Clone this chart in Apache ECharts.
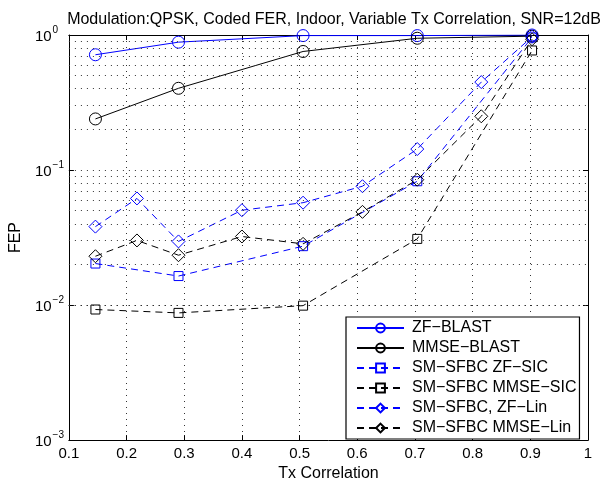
<!DOCTYPE html>
<html>
<head>
<meta charset="utf-8">
<script src="https://cdn.jsdelivr.net/npm/echarts@6/dist/echarts.min.js"></script>
<style>
  html, body { margin: 0; padding: 0; background: #fff; }
  #main { width: 600px; height: 487px; }
</style>
</head>
<body>
<div id="main"></div>
<script>
// Tx correlation values (x)
const corrShort = [0.146, 0.29, 0.506, 0.704, 0.903];
const corrLong = [0.146, 0.218, 0.29, 0.4, 0.506, 0.609, 0.704, 0.815, 0.903];

// FEP values
const zfBlast = [0.714, 0.885, 0.99, 0.99, 1.0];
const mmseBlast = [0.239, 0.403, 0.755, 0.946, 0.98];
const zfSic = [0.0203, 0.0164, 0.0273, 0.0826, 0.96];
const mmseSic = [0.00927, 0.00875, 0.0099, 0.0309, 0.768];
const zfLin = [0.0381, 0.0616, 0.0296, 0.0504, 0.0573, 0.0759, 0.143, 0.448, 0.97];
const mmseLin = [0.023, 0.0301, 0.0234, 0.0322, 0.0284, 0.049, 0.0848, 0.25, 0.93];

const xTickLabels = ['0.1', '0.2', '0.3', '0.4', '0.5', '0.6', '0.7', '0.8', '0.9', '1'];
const yMinorGrid = [0.002, 0.003, 0.004, 0.005, 0.006, 0.007, 0.008, 0.009,
                    0.02, 0.03, 0.04, 0.05, 0.06, 0.07, 0.08, 0.09,
                    0.2, 0.3, 0.4, 0.5, 0.6, 0.7, 0.8, 0.9];

const FONT = 'Liberation Sans, Arial, Helvetica, sans-serif';
const BLUE = '#0000ff';
const BLACK = '#000000';
const DASH = [7, 5];
const GRID_DOT = [1, 5];
const GRID_COLOR = '#333';

function pairs(xs, ys) {
    return xs.map((x, i) => [x, ys[i]]);
}

function makeSeries(name, xs, ys, color, symbol, size, dashed) {
    return {
        name: name,
        type: 'line',
        data: pairs(xs, ys),
        symbol: symbol,
        symbolSize: size,
        showAllSymbol: true,
        animation: false,
        lineStyle: { color: color, width: 1, type: dashed ? DASH : 'solid' },
        itemStyle: { color: 'rgba(255,255,255,0)', borderColor: color, borderWidth: 1 },
        emphasis: { disabled: true },
        z: 3
    };
}

const chart = echarts.init(document.getElementById('main'));

const option = {
    backgroundColor: '#fff',
    textStyle: { fontFamily: FONT },
    title: {
        text: 'Modulation:QPSK, Coded FER, Indoor, Variable Tx Correlation, SNR=12dB',
        left: 329,
        textAlign: 'center',
        top: 7,
        textStyle: { fontFamily: FONT, fontSize: 16, fontWeight: 'normal', color: '#000' }
    },
    grid: { left: 67, right: 12, top: 35, bottom: 41 },
    legend: {
        orient: 'vertical',
        left: 346,
        top: 317,
        padding: [3, 3, 3, 10],
        itemWidth: 47,
        itemHeight: 11,
        itemGap: 4,
        backgroundColor: '#fff',
        borderColor: '#000',
        borderWidth: 1.2,
        borderRadius: 0,
        data: ['ZF\u2212BLAST', 'MMSE\u2212BLAST', 'SM\u2212SFBC ZF\u2212SIC',
               'SM\u2212SFBC MMSE\u2212SIC', 'SM\u2212SFBC, ZF\u2212Lin', 'SM\u2212SFBC MMSE\u2212Lin'],
        textStyle: { fontFamily: FONT, fontSize: 16, color: '#000', lineHeight: 16, padding: [0, 0, 0, 3] },
        selectedMode: false
    },
    xAxis: [{
        type: 'value',
        min: 0.1,
        max: 1,
        interval: 0.1,
        name: 'Tx Correlation',
        nameLocation: 'middle',
        nameGap: 23,
        nameTextStyle: { fontFamily: FONT, fontSize: 16, color: '#000' },
        axisLine: { lineStyle: { color: '#000', width: 1 } },
        axisTick: { inside: true, length: 5, lineStyle: { color: '#000' } },
        axisLabel: {
            margin: 6,
            fontFamily: FONT, fontSize: 15, color: '#000',
            formatter: v => xTickLabels[Math.round(v * 10) - 1]
        },
        splitLine: { show: true, lineStyle: { color: GRID_COLOR, type: GRID_DOT, width: 1 } }
    }, {
        type: 'value',
        position: 'top',
        min: 0.1,
        max: 1,
        interval: 0.1,
        axisLine: { show: true, onZero: false, lineStyle: { color: '#000', width: 1 } },
        axisTick: { inside: true, length: 5, lineStyle: { color: '#000' } },
        axisLabel: { show: false },
        splitLine: { show: false }
    }],
    yAxis: [{
        type: 'log',
        logBase: 10,
        min: 0.001,
        max: 1,
        name: 'FEP',
        nameLocation: 'middle',
        nameGap: 40,
        nameTextStyle: { fontFamily: FONT, fontSize: 16, color: '#000' },
        axisLine: { show: true, lineStyle: { color: '#000', width: 1 } },
        axisTick: { show: true, inside: true, length: 5, lineStyle: { color: '#000' } },
        axisLabel: {
            margin: 34,
            align: 'left',
            formatter: function (v) {
                const e = Math.round(Math.log10(v));
                const s = e < 0 ? '\u2212' + (-e) : String(e);
                return '{b|10}{s|' + s + '}';
            },
            rich: {
                b: { fontFamily: FONT, fontSize: 15, color: '#000', verticalAlign: 'bottom', lineHeight: 16 },
                s: { fontFamily: FONT, fontSize: 10, color: '#000', verticalAlign: 'bottom', padding: [0, 0, 9, 1] }
            }
        },
        splitLine: { show: true, lineStyle: { color: GRID_COLOR, type: GRID_DOT, width: 1 } }
    }, {
        type: 'log',
        logBase: 10,
        min: 0.001,
        max: 1,
        position: 'right',
        axisLine: { show: true, lineStyle: { color: '#000', width: 1 } },
        axisTick: { show: true, inside: true, length: 5, lineStyle: { color: '#000' } },
        axisLabel: { show: false },
        splitLine: { show: false }
    }],
    series: [
        {
            name: 'minor-grid',
            type: 'line',
            data: [],
            silent: true,
            animation: false,
            markLine: {
                silent: true,
                animation: false,
                symbol: ['none', 'none'],
                label: { show: false },
                lineStyle: { color: GRID_COLOR, type: GRID_DOT, width: 1 },
                emphasis: { disabled: true },
                data: yMinorGrid.map(v => ({ yAxis: v }))
            }
        },
        makeSeries('ZF\u2212BLAST', corrShort, zfBlast, BLUE, 'circle', 12, false),
        makeSeries('MMSE\u2212BLAST', corrShort, mmseBlast, BLACK, 'circle', 12, false),
        makeSeries('SM\u2212SFBC ZF\u2212SIC', corrShort, zfSic, BLUE, 'rect', 9, true),
        makeSeries('SM\u2212SFBC MMSE\u2212SIC', corrShort, mmseSic, BLACK, 'rect', 9, true),
        makeSeries('SM\u2212SFBC, ZF\u2212Lin', corrLong, zfLin, BLUE, 'diamond', 13, true),
        makeSeries('SM\u2212SFBC MMSE\u2212Lin', corrLong, mmseLin, BLACK, 'diamond', 13, true)
    ]
};

chart.setOption(option);

window.addEventListener('resize', function () {
    chart.resize();
});
</script>
</body>
</html>
